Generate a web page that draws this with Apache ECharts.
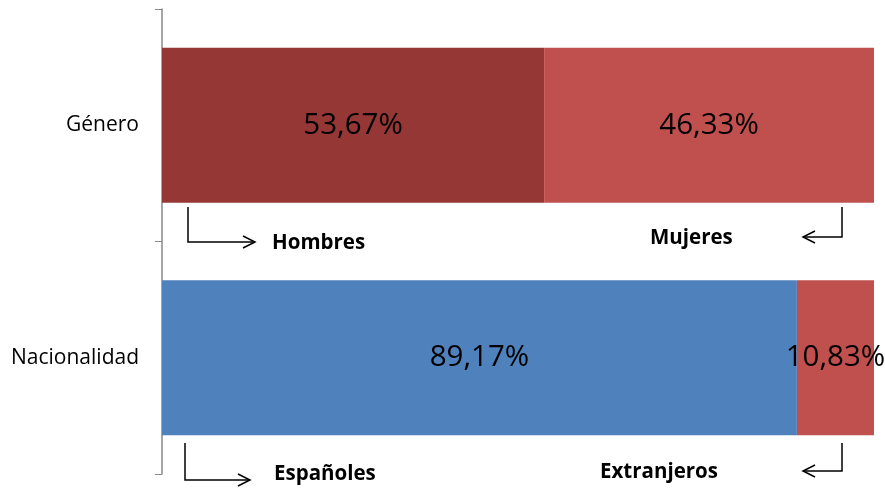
<!DOCTYPE html>
<html><head><meta charset="utf-8">
<script src="https://cdn.jsdelivr.net/npm/echarts@6/dist/echarts.min.js"></script>
<style>html,body{margin:0;padding:0;background:#fff}#c{width:885px;height:488px}</style>
</head><body><div id="c"></div>
<script>
const categories = ['Género', 'Nacionalidad'];
const firstGroup = [53.67, 89.17];   // Hombres / Españoles
const secondGroup = [46.33, 10.83];  // Mujeres / Extranjeros
const firstColors = ['#953735', '#4F81BD'];
const secondColors = ['#C0504D', '#C0504D'];
const annotations = ['Hombres', 'Mujeres', 'Españoles', 'Extranjeros'];

const fmt = v => v.toFixed(2).replace('.', ',') + '%';
const font = '"Open Sans", sans-serif';
const chart = echarts.init(document.getElementById('c'));

function arrow(x0, y0, y1, x1, dir) {
  const h = 6;
  return [
    {type:'polyline', shape:{points:[[x0,y0],[x0,y1],[x1,y1]]}, style:{stroke:'#000', lineWidth:1.5, fill:null}},
    {type:'polyline', shape:{points: dir>0 ? [[x1-12,y1-h],[x1,y1],[x1-12,y1+h]] : [[x1+12,y1-h],[x1,y1],[x1+12,y1+h]]}, style:{stroke:'#000', lineWidth:1.5, fill:null}}
  ];
}
const textStyle = (x, y, t) => ({type:'text', x:x, y:y, style:{text:t, font:'bold 20.5px ' + font, fill:'#000', verticalAlign:'middle', align:'left'}});

chart.setOption({
  animation:false,
  grid:{left:162, right:11, top:9, bottom:14},
  xAxis:{type:'value', min:0, max:100, show:false},
  yAxis:{type:'category', data:categories, inverse:true,
    axisLine:{show:true, lineStyle:{color:'#888', width:1.5}},
    axisTick:{show:true, length:7, lineStyle:{color:'#888'}},
    axisLabel:{color:'#000', fontSize:21, fontFamily:font, margin:23}},
  series:[
    {type:'bar', stack:'t', barWidth:'66.7%', data:firstGroup.map((v,i)=>({value:v, itemStyle:{color:firstColors[i]}})),
     label:{show:true, position:'inside', formatter:p=>fmt(p.value), fontSize:29.5, fontFamily:font, color:'#000'}},
    {type:'bar', stack:'t', barWidth:'66.7%', data:secondGroup.map((v,i)=>({value:v, itemStyle:{color:secondColors[i]}})),
     label:{show:true, position:'inside', formatter:p=>fmt(p.value), fontSize:29.5, fontFamily:font, color:'#000', overflow:'none'}}
  ],
  graphic:[
    ...arrow(188, 207, 242, 255, 1),
    textStyle(272, 243, annotations[0]),
    ...arrow(842, 207, 237, 803, -1),
    textStyle(650, 238, annotations[1]),
    ...arrow(185, 443, 480, 250, 1),
    textStyle(274, 474, annotations[2]),
    ...arrow(842, 443, 471, 803, -1),
    textStyle(600, 472, annotations[3])
  ]
});
</script></body></html>
